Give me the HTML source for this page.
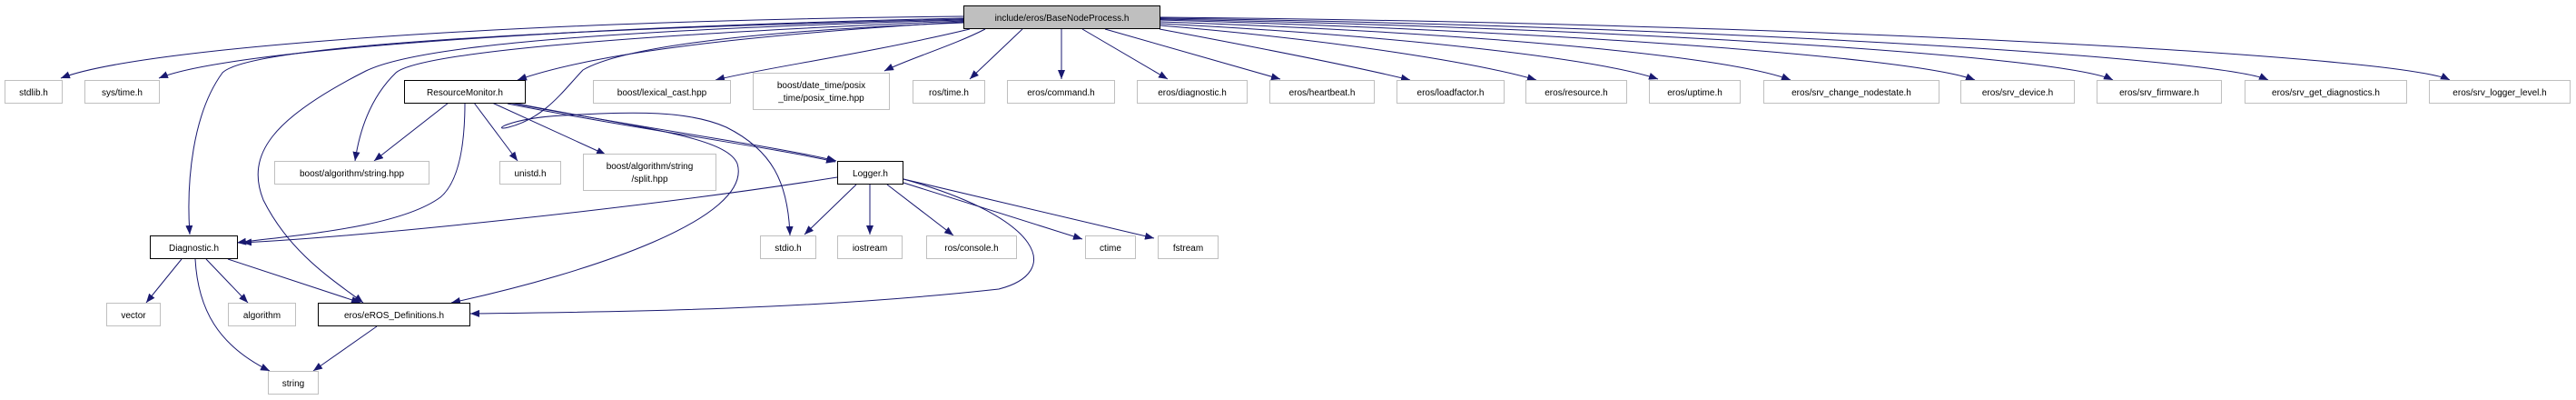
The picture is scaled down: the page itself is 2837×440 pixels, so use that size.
<!DOCTYPE html>
<html><head><meta charset="utf-8"><style>
html,body{margin:0;padding:0;background:#fff;}
svg{display:block;}
text{font-family:"Liberation Sans",Helvetica,sans-serif;font-size:10px;fill:#000;}
</style></head><body>
<svg width="2837" height="440" viewBox="0 0 2837 440" xmlns="http://www.w3.org/2000/svg">
<defs>
<marker id="a" markerWidth="10" markerHeight="8" refX="10" refY="4" orient="auto" markerUnits="userSpaceOnUse">
<path d="M0,0 L10,4 L0,8 z" fill="#191970"/>
</marker>
</defs>
<g fill="none" stroke="#191970" stroke-width="1" marker-end="url(#a)">
<!-- from top node -->
<path d="M1061,18 C600,22 160,50 67,86"/>
<path d="M1061,20 C620,30 250,55 175,86"/>
<path d="M1061,21 C500,35 270,55 245,80 C212,125 205,200 209,258"/>
<path d="M1061,22 C600,35 450,55 403,78 C300,130 270,170 290,220 C320,280 370,310 400,333"/>
<path d="M1061,23 C650,40 460,60 436,80 C405,110 395,150 391,177"/>
<path d="M1061,24 C800,40 650,60 570,88"/>
<path d="M1061,25 C800,35 680,55 642,77 C620,100 600,130 560,140 C540,145 560,130 620,127 C700,122 760,122 800,140 C850,165 868,200 870,259"/>
<path d="M1068,32 C950,60 840,75 788,88"/>
<path d="M1085,32 C1050,50 1000,65 974,78"/>
<path d="M1126,32 L1068,87"/>
<path d="M1169,32 L1169,87"/>
<path d="M1192,32 L1286,87"/>
<path d="M1217,32 L1410,87"/>
<path d="M1277,32 C1400,55 1500,75 1553,88"/>
<path d="M1278,28 C1480,45 1630,70 1692,88"/>
<path d="M1278,26 C1550,40 1760,65 1826,87"/>
<path d="M1278,24 C1600,35 1900,60 1972,88"/>
<path d="M1278,22 C1650,32 2100,60 2175,88"/>
<path d="M1278,21 C1750,30 2270,60 2327,88"/>
<path d="M1278,20 C1850,28 2440,62 2498,88"/>
<path d="M1278,19 C1950,25 2640,60 2698,88"/>
<!-- ResourceMonitor -->
<path d="M494,113 L412,177"/>
<path d="M512,113 C512,160 505,200 485,217 C440,250 330,258 261,267"/>
<path d="M522,113 L570,177"/>
<path d="M542,113 L667,170"/>
<path d="M561,113 C700,140 850,160 921,177"/>
<path d="M559,114 C700,142 850,162 920,178"/>
<path d="M564,113 C700,140 800,150 812,180 C830,240 650,300 497,333"/>
<!-- Logger -->
<path d="M922,195 C700,230 400,260 267,267"/>
<path d="M943,203 L886,258"/>
<path d="M958,203 L958,258"/>
<path d="M977,203 L1050,259"/>
<path d="M995,201 L1192,263"/>
<path d="M995,197 L1271,262"/>
<path d="M995,197 C1150,240 1170,300 1100,318 C900,340 700,343 518,345"/>
<!-- Diagnostic -->
<path d="M200,285 L161,333"/>
<path d="M227,285 L273,333"/>
<path d="M251,285 L397,333"/>
<path d="M215,285 C218,340 240,380 297,408"/>
<!-- eROS_Definitions -->
<path d="M415,359 L345,408"/>
</g>
<g stroke-width="1">
<rect x="1061.5" y="6.5" width="216" height="25" fill="#bfbfbf" stroke="#000"/>
<g fill="#fff" stroke="#bfbfbf">
<rect x="5.5" y="88.5" width="63" height="25"/>
<rect x="93.5" y="88.5" width="82" height="25"/>
<rect x="653.5" y="88.5" width="151" height="25"/>
<rect x="829.5" y="80.5" width="150" height="40"/>
<rect x="1005.5" y="88.5" width="79" height="25"/>
<rect x="1109.5" y="88.5" width="118" height="25"/>
<rect x="1252.5" y="88.5" width="121" height="25"/>
<rect x="1398.5" y="88.5" width="115" height="25"/>
<rect x="1538.5" y="88.5" width="118" height="25"/>
<rect x="1680.5" y="88.5" width="111" height="25"/>
<rect x="1816.5" y="88.5" width="100" height="25"/>
<rect x="1942.5" y="88.5" width="193" height="25"/>
<rect x="2159.5" y="88.5" width="125" height="25"/>
<rect x="2309.5" y="88.5" width="137" height="25"/>
<rect x="2472.5" y="88.5" width="178" height="25"/>
<rect x="2675.5" y="88.5" width="155" height="25"/>
<rect x="302.5" y="177.5" width="170" height="25"/>
<rect x="550.5" y="177.5" width="67" height="25"/>
<rect x="642.5" y="169.5" width="146" height="40"/>
<rect x="837.5" y="259.5" width="61" height="25"/>
<rect x="922.5" y="259.5" width="71" height="25"/>
<rect x="1020.5" y="259.5" width="99" height="25"/>
<rect x="1195.5" y="259.5" width="55" height="25"/>
<rect x="1275.5" y="259.5" width="66" height="25"/>
<rect x="117.5" y="333.5" width="59" height="25"/>
<rect x="251.5" y="333.5" width="74" height="25"/>
<rect x="295.5" y="408.5" width="55" height="25"/>
</g>
<g fill="#fff" stroke="#000">
<rect x="445.5" y="88.5" width="133" height="25"/>
<rect x="922.5" y="177.5" width="72" height="25"/>
<rect x="165.5" y="259.5" width="96" height="25"/>
<rect x="350.5" y="333.5" width="167" height="25"/>
</g>
</g>
<g text-anchor="middle">
<text x="1169.5" y="23">include/eros/BaseNodeProcess.h</text>
<text x="37" y="105">stdlib.h</text>
<text x="134.5" y="105">sys/time.h</text>
<text x="512" y="105">ResourceMonitor.h</text>
<text x="729" y="105">boost/lexical_cast.hpp</text>
<text x="904.5" y="97">boost/date_time/posix</text>
<text x="904.5" y="111">_time/posix_time.hpp</text>
<text x="1045" y="105">ros/time.h</text>
<text x="1168.5" y="105">eros/command.h</text>
<text x="1313" y="105">eros/diagnostic.h</text>
<text x="1456" y="105">eros/heartbeat.h</text>
<text x="1597.5" y="105">eros/loadfactor.h</text>
<text x="1736" y="105">eros/resource.h</text>
<text x="1866.5" y="105">eros/uptime.h</text>
<text x="2039" y="105">eros/srv_change_nodestate.h</text>
<text x="2222" y="105">eros/srv_device.h</text>
<text x="2378" y="105">eros/srv_firmware.h</text>
<text x="2561.5" y="105">eros/srv_get_diagnostics.h</text>
<text x="2753" y="105">eros/srv_logger_level.h</text>
<text x="387.5" y="194">boost/algorithm/string.hpp</text>
<text x="584" y="194">unistd.h</text>
<text x="715.5" y="186">boost/algorithm/string</text>
<text x="715.5" y="200">/split.hpp</text>
<text x="958.5" y="194">Logger.h</text>
<text x="868" y="276">stdio.h</text>
<text x="958" y="276">iostream</text>
<text x="1070" y="276">ros/console.h</text>
<text x="1223" y="276">ctime</text>
<text x="1308.5" y="276">fstream</text>
<text x="213.5" y="276">Diagnostic.h</text>
<text x="147" y="350">vector</text>
<text x="288.5" y="350">algorithm</text>
<text x="434" y="350">eros/eROS_Definitions.h</text>
<text x="323" y="425">string</text>
</g>
</svg>
</body></html>
